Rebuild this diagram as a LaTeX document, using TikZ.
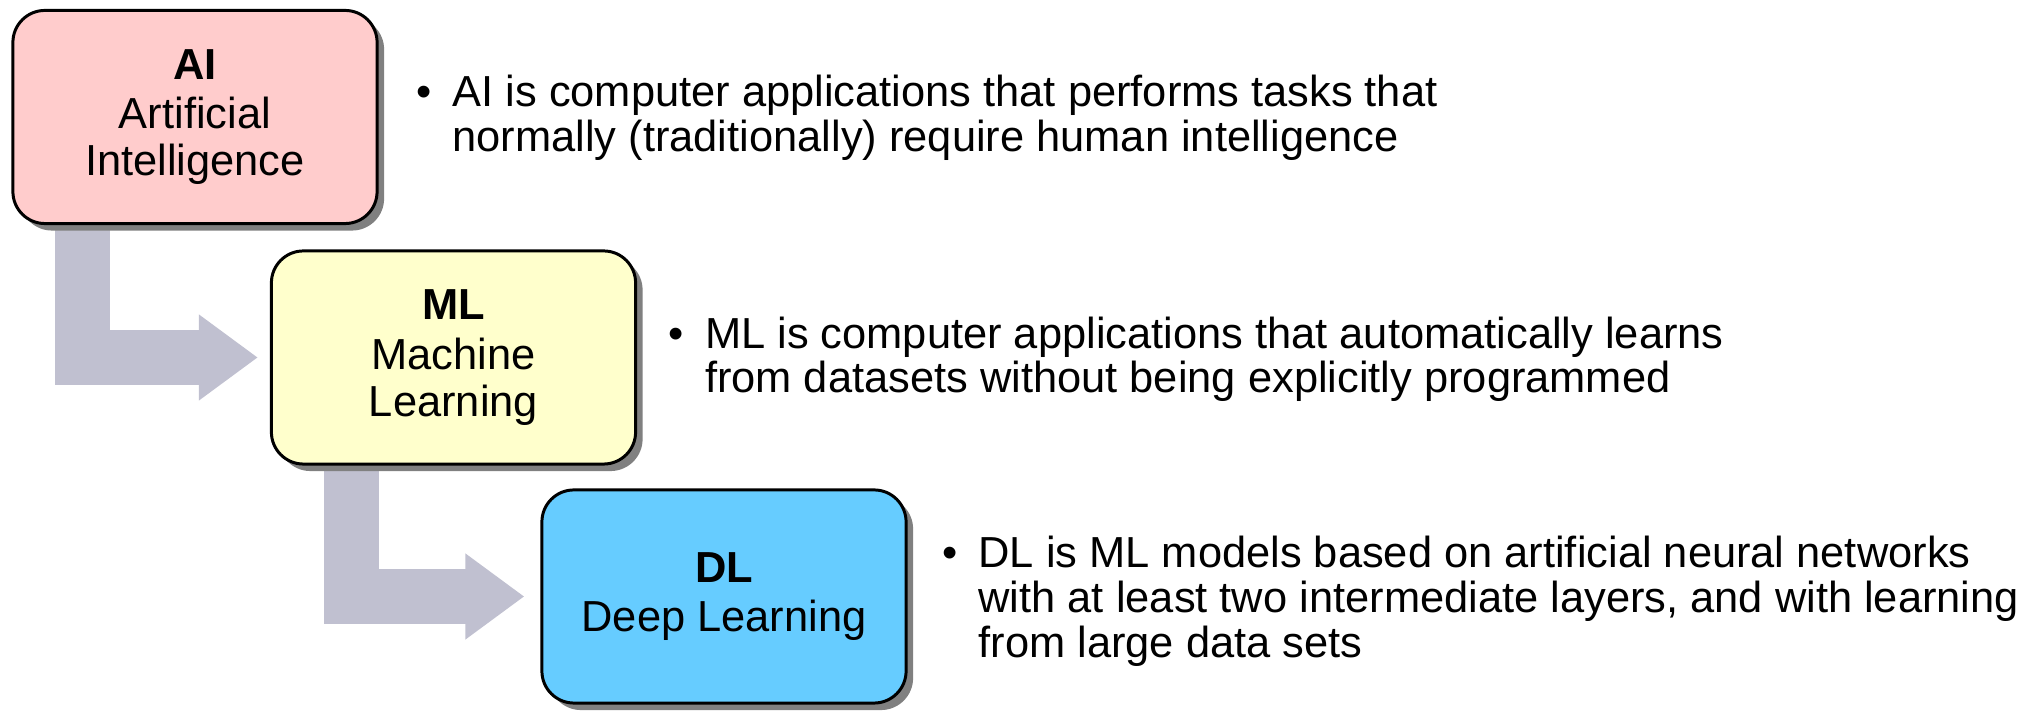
\documentclass[tikz,border=0pt]{standalone}
\usepackage{fontspec}
\setmainfont{Liberation Sans}
\usetikzlibrary{positioning,shadows,arrows.meta,backgrounds}
\definecolor{aipink}{RGB}{255,204,204}
\definecolor{mlyellow}{RGB}{255,255,204}
\definecolor{dlblue}{RGB}{102,204,255}
\definecolor{flowgray}{RGB}{192,192,208}
\tikzset{
  box/.style={draw=black, line width=0.85pt, rounded corners=0.32cm,
    minimum width=3.64cm, minimum height=2.13cm, align=center,
    font=\fontsize{12.35}{13.3}\selectfont,
    execute at begin node={\rule{0pt}{0.5cm}},
    drop shadow={shadow xshift=0.07cm, shadow yshift=-0.07cm, fill=black!50, opacity=1}},
  flow/.style={draw=flowgray, line width=0.55cm, -{Triangle[length=0.59cm,width=0.82cm]}},
  note/.style={inner sep=0pt, font=\fontsize{12.35}{12.6}\selectfont}
}
\begin{document}
\begin{tikzpicture}[x=0.01cm, y=-0.01cm]
    \useasboundingbox (0,0) rectangle (2038,713);
    % the three boxes
    \node[box, fill=aipink] (AI) at (195,117) {\textbf{AI}\\[0.03cm]Artificial\\Intelligence};
    \node[box, fill=mlyellow] (ML) at (453.5,357.5) {\textbf{ML}\\[0.03cm]Machine\\Learning};
    \node[box, fill=dlblue] (DL) at (724,596.5) {\textbf{DL}\\[0.03cm]Deep Learning};
    % bullet texts
    \node[note, right=0.37cm of AI, yshift=-0.03cm] (AInote) {\begin{tabular}{@{}l@{\hspace{0.21cm}}l@{}}
        \textbullet & AI is computer applications that performs tasks that\\
        & normally (traditionally) require human intelligence
    \end{tabular}};
    \node[note, right=0.31cm of ML, yshift=-0.04cm] (MLnote) {\begin{tabular}{@{}l@{\hspace{0.21cm}}l@{}}
        \textbullet & ML is computer applications that automatically learns\\
        & from datasets without being explicitly programmed
    \end{tabular}};
    \node[note, right=0.34cm of DL, yshift=-0.07cm] (DLnote) {\begin{tabular}{@{}l@{\hspace{0.21cm}}l@{}}
        \textbullet & DL is ML models based on artificial neural networks\\
        & with at least two intermediate layers, and with learning\\
        & from large data sets
    \end{tabular}};
    % bent arrows behind the boxes
    \begin{scope}[on background layer]
        \draw[flow] ([xshift=0.715cm]AI.south west) |- ([xshift=-0.12cm]ML.west);
        \draw[flow] ([xshift=0.82cm]ML.south west) |- ([xshift=-0.16cm]DL.west);
    \end{scope}
\end{tikzpicture}
\end{document}
